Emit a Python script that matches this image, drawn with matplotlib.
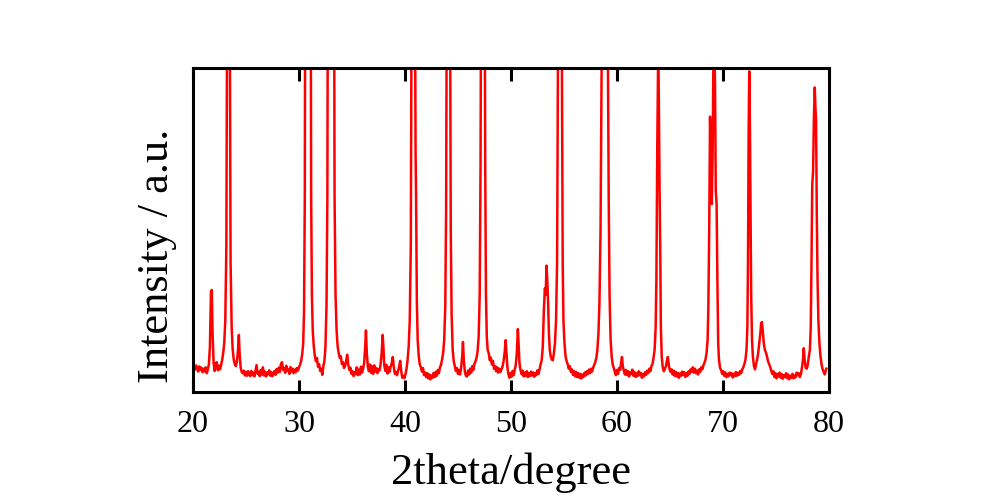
import matplotlib
matplotlib.use('Agg')
import matplotlib.pyplot as plt

plt.rcParams['font.family'] = ['Liberation Serif', 'DejaVu Serif']

# XRD pattern (intensity in arbitrary units, 0-100 = visible window)
two_theta = [
    20.0, 20.1, 20.2, 20.3, 20.4, 20.5, 20.6, 20.7, 20.8, 20.9, 21.0, 21.1, 21.2, 21.3, 21.4, 21.5,
    21.6, 21.7, 21.78, 21.85, 21.95, 22.05, 22.15, 22.25, 22.35, 22.45, 22.55, 22.65, 22.75, 22.85,
    22.95, 23.05, 23.15, 23.22, 23.35, 23.48, 23.55, 23.65, 23.75, 23.85, 23.95, 24.05, 24.15, 24.25,
    24.33, 24.4, 24.5, 24.6, 24.7, 24.8, 24.9, 25.0, 25.1, 25.2, 25.3, 25.4, 25.5, 25.6, 25.7, 25.8,
    25.9, 26.0, 26.1, 26.2, 26.3, 26.4, 26.5, 26.6, 26.7, 26.8, 26.9, 27.0, 27.1, 27.2, 27.3, 27.4,
    27.5, 27.6, 27.7, 27.8, 27.9, 28.0, 28.1, 28.2, 28.3, 28.4, 28.5, 28.6, 28.7, 28.8, 28.9, 29.0,
    29.1, 29.2, 29.3, 29.4, 29.5, 29.6, 29.7, 29.8, 29.9, 30.0, 30.1, 30.2, 30.3, 30.4, 30.48, 30.55,
    30.62, 30.85, 31.08, 31.15, 31.22, 31.3, 31.4, 31.5, 31.6, 31.7, 31.8, 31.9, 32.0, 32.1, 32.2,
    32.3, 32.4, 32.5, 32.6, 32.68, 32.76, 33.02, 33.28, 33.36, 33.45, 33.55, 33.65, 33.75, 33.85,
    33.95, 34.05, 34.15, 34.25, 34.35, 34.45, 34.55, 34.65, 34.75, 34.85, 34.95, 35.05, 35.15, 35.25,
    35.35, 35.45, 35.55, 35.65, 35.75, 35.85, 35.95, 36.05, 36.15, 36.25, 36.32, 36.4, 36.5, 36.6,
    36.7, 36.8, 36.9, 37.0, 37.1, 37.2, 37.3, 37.4, 37.5, 37.6, 37.7, 37.8, 37.9, 37.98, 38.05, 38.15,
    38.25, 38.35, 38.45, 38.55, 38.65, 38.75, 38.85, 38.95, 39.05, 39.15, 39.25, 39.35, 39.45, 39.55,
    39.65, 39.75, 39.85, 39.95, 40.05, 40.15, 40.25, 40.35, 40.45, 40.55, 40.62, 40.8, 40.95, 41.0,
    41.05, 41.12, 41.2, 41.3, 41.4, 41.5, 41.6, 41.7, 41.8, 41.9, 42.0, 42.1, 42.2, 42.3, 42.4, 42.5,
    42.6, 42.7, 42.8, 42.9, 43.0, 43.1, 43.2, 43.3, 43.4, 43.5, 43.6, 43.7, 43.8, 43.88, 43.95, 44.1,
    44.25, 44.32, 44.4, 44.5, 44.6, 44.7, 44.8, 44.9, 45.0, 45.1, 45.2, 45.3, 45.4, 45.47, 45.55,
    45.65, 45.75, 45.85, 45.95, 46.05, 46.15, 46.25, 46.35, 46.45, 46.55, 46.65, 46.75, 46.85, 46.95,
    47.05, 47.13, 47.2, 47.35, 47.5, 47.57, 47.64, 47.72, 47.8, 47.9, 48.0, 48.1, 48.2, 48.3, 48.4,
    48.5, 48.6, 48.7, 48.8, 48.9, 49.0, 49.1, 49.2, 49.3, 49.4, 49.5, 49.58, 49.65, 49.75, 49.85,
    49.95, 50.05, 50.15, 50.25, 50.35, 50.45, 50.55, 50.65, 50.72, 50.8, 50.9, 51.0, 51.1, 51.2, 51.3,
    51.4, 51.5, 51.6, 51.7, 51.8, 51.9, 52.0, 52.1, 52.2, 52.3, 52.4, 52.5, 52.6, 52.7, 52.8, 52.9,
    53.0, 53.1, 53.2, 53.28, 53.35, 53.42, 53.5, 53.58, 53.66, 53.75, 53.85, 53.95, 54.05, 54.15,
    54.25, 54.35, 54.43, 54.62, 54.81, 54.88, 54.95, 55.05, 55.15, 55.25, 55.35, 55.45, 55.55, 55.65,
    55.75, 55.85, 55.95, 56.05, 56.15, 56.25, 56.35, 56.45, 56.55, 56.65, 56.75, 56.85, 56.95, 57.05,
    57.15, 57.25, 57.35, 57.45, 57.55, 57.65, 57.75, 57.85, 57.95, 58.05, 58.15, 58.25, 58.35, 58.45,
    58.55, 58.87, 59.15, 59.22, 59.3, 59.4, 59.5, 59.6, 59.7, 59.8, 59.9, 60.0, 60.1, 60.2, 60.3, 60.4,
    60.47, 60.55, 60.65, 60.75, 60.85, 60.95, 61.05, 61.15, 61.25, 61.35, 61.45, 61.55, 61.65, 61.75,
    61.85, 61.95, 62.05, 62.15, 62.25, 62.35, 62.45, 62.55, 62.65, 62.75, 62.85, 62.95, 63.05, 63.15,
    63.25, 63.35, 63.45, 63.55, 63.65, 63.72, 63.8, 63.88, 63.95, 64.02, 64.08, 64.14, 64.22, 64.32,
    64.42, 64.52, 64.62, 64.7, 64.8, 64.88, 64.95, 65.05, 65.15, 65.25, 65.35, 65.45, 65.55, 65.65,
    65.75, 65.85, 65.95, 66.05, 66.15, 66.25, 66.35, 66.45, 66.55, 66.65, 66.75, 66.85, 66.95, 67.05,
    67.15, 67.25, 67.35, 67.45, 67.55, 67.65, 67.75, 67.85, 67.95, 68.05, 68.15, 68.25, 68.35, 68.45,
    68.55, 68.62, 68.7, 68.78, 68.85, 68.95, 69.03, 69.1, 69.17, 69.25, 69.32, 69.4, 69.47, 69.55,
    69.62, 69.72, 69.82, 69.92, 70.02, 70.12, 70.22, 70.32, 70.42, 70.52, 70.62, 70.72, 70.82, 70.92,
    71.02, 71.12, 71.22, 71.32, 71.42, 71.52, 71.62, 71.72, 71.82, 71.92, 72.02, 72.12, 72.22, 72.3,
    72.36, 72.42, 72.48, 72.54, 72.6, 72.66, 72.74, 72.82, 72.92, 73.02, 73.12, 73.22, 73.32, 73.42,
    73.52, 73.6, 73.67, 73.75, 73.85, 73.95, 74.05, 74.15, 74.25, 74.35, 74.45, 74.55, 74.65, 74.75,
    74.85, 74.95, 75.05, 75.15, 75.25, 75.35, 75.45, 75.55, 75.65, 75.75, 75.85, 75.95, 76.05, 76.15,
    76.25, 76.35, 76.45, 76.55, 76.65, 76.75, 76.85, 76.95, 77.05, 77.15, 77.25, 77.35, 77.45, 77.55,
    77.62, 77.7, 77.8, 77.9, 78.0, 78.1, 78.2, 78.28, 78.35, 78.42, 78.5, 78.58, 78.66, 78.72, 78.78,
    78.85, 78.92, 79.0, 79.1, 79.2, 79.3, 79.4, 79.5, 79.6, 79.7, 79.75,
]
intensity = [
    6.5, 7.8, 6.9, 8.2, 7.1, 6.3, 7.9, 6.8, 7.5, 6.1, 7.2, 6.4, 7.6, 5.8, 6.9, 8.5,
    14, 31, 31.5, 18, 9, 6.5, 8.8, 9.2, 6.7, 8.1, 7.0, 8.3, 9.8, 12,
    15, 22, 45, 110, 400, 110, 40, 20, 13, 10, 8.5, 8.0, 9.5, 13,
    17.6, 12, 7.5, 6.2, 5.8, 6.6, 5.1, 6.2, 5.0, 6.4, 5.3, 4.9, 6.5, 5.2, 6.0, 4.8,
    6.6, 8.3, 5.6, 6.2, 4.9, 6.8, 5.4, 7.6, 5.1, 6.3, 4.8, 6.0, 5.5, 6.7, 5.0, 6.1,
    4.9, 5.9, 6.5, 5.3, 7.1, 6.0, 7.5, 6.2, 8.6, 9.2, 6.8, 7.4, 5.9, 8.1, 6.5, 7.0,
    5.6, 7.7, 6.3, 7.2, 5.8, 6.9, 6.1, 7.4, 6.6, 7.6, 8.4, 9.5, 11.5, 15, 25, 60,
    180, 600, 180, 60, 30, 19, 14, 11, 9.5, 10.5, 7.8, 8.6, 6.5, 7.2, 5.3,
    8.0, 9.5, 14, 27, 60, 180, 600, 180, 60, 30, 19, 14, 12, 10.5,
    11, 8.6, 9.2, 7.4, 8.0, 9.5, 11.5, 8.5, 6.8, 7.5, 5.6, 6.4, 4.9, 6.1,
    5.5, 7.6, 5.2, 6.9, 5.4, 7.8, 6.0, 7.2, 9, 14, 19, 12, 7.8, 6.4,
    8.5, 5.9, 7.9, 5.6, 8.2, 6.3, 7.4, 5.8, 7.0, 6.6, 8.5, 12, 17.6, 13, 8.2, 6.5,
    8.4, 5.7, 7.6, 6.2, 7.9, 8.8, 10.8, 7.5, 5.6, 6.2, 5.2, 6.5, 7.8, 9.6,
    6.4, 4.4, 5.0, 4.3, 5.6, 7.2, 10, 14, 22, 45, 110, 500, 120, 74,
    60, 28, 16, 11, 8.5, 7.6, 6.3, 7.4, 5.2, 6.0, 4.6, 5.8, 4.2, 5.4, 3.9, 5.1,
    4.4, 5.9, 4.6, 6.2, 5.0, 6.8, 5.8, 7.6, 8.4, 10, 12, 16, 26, 55, 130, 500,
    130, 50, 24, 13, 9.5, 8.0, 6.5, 7.4, 5.6, 6.8, 5.4, 7.6, 11, 15.4, 10,
    6.2, 5.0, 4.8, 6.6, 5.4, 7.2, 6.0, 8.0, 6.8, 8.6, 9.4, 10.5, 12.5, 17,
    30, 70, 150, 500, 150, 70, 30, 17, 13, 12, 9.8, 10.6, 8.5, 9.6, 7.2,
    8.0, 6.4, 7.6, 6.0, 7.2, 6.2, 7.0, 7.8, 9.5, 12, 16, 12, 8, 5.6, 4.4,
    5.8, 4.7, 6.5, 5.2, 6.8, 8.2, 12, 19.4, 15, 9, 6.8, 5.5, 6.6, 4.8, 6.0,
    5.0, 6.4, 4.6, 5.8, 4.9, 6.3, 5.1, 6.0, 4.7, 5.9, 5.2, 6.7, 5.6, 7.0, 8.6, 9.8,
    14, 25, 32, 30, 39, 35, 28, 18, 13, 11, 10, 9.8, 12, 15,
    22, 40, 100, 500, 100, 40, 22, 15, 11, 9.5, 8.6, 7.2, 8.0, 6.2,
    7.0, 5.3, 6.4, 4.8, 6.2, 4.6, 5.8, 4.4, 5.6, 4.2, 5.4, 4.7, 6.0, 5.1,
    6.4, 5.5, 6.9, 5.8, 7.2, 6.3, 7.5, 8.4, 9.2, 10.5, 13, 18, 28, 50,
    100, 500, 100, 60, 30, 16, 11, 8.4, 7.4, 6.2, 5.2, 6.8, 5.6, 7.4, 6.8, 9.2,
    10.8, 8, 6.6, 5.4, 6.8, 5.2, 6.4, 4.8, 6.0, 5.6, 6.9, 5.0, 6.2, 4.6,
    5.8, 4.9, 6.4, 5.2, 5.9, 4.4, 5.6, 4.8, 6.1, 5.3, 6.6, 5.8, 7.2, 6.4,
    8.0, 8.6, 10.5, 13, 20, 35, 75, 102, 90, 62, 45, 20, 11, 7.5,
    6.4, 7.2, 8.0, 9.4, 10.8, 8.5, 7.2, 6.2, 7.0, 5.4, 6.6, 5.0, 6.2, 4.8,
    5.9, 4.4, 5.7, 5.0, 6.3, 5.2, 6.1, 4.6, 5.8, 5.0, 6.4, 5.6, 7.0, 6.2,
    7.6, 6.0, 7.2, 5.8, 6.6, 5.4, 7.0, 6.2, 7.6, 7.0, 8.2, 9.0, 10, 12,
    16, 26, 50, 85, 70, 58, 75, 105, 110, 95, 62, 58, 35, 15,
    10, 7.5, 6.8, 5.6, 6.4, 5.0, 6.0, 4.6, 5.6, 4.8, 6.0, 5.2, 5.8, 4.5,
    5.6, 4.9, 6.2, 5.0, 5.9, 5.3, 6.5, 5.8, 7.0, 7.6, 8.6, 10, 13, 20,
    40, 80, 99, 82, 57, 30, 16, 11, 8, 7.0, 8.5, 10, 12, 15,
    18, 21, 21.6, 19, 15, 13, 12.2, 11, 9.5, 8.6, 7.8, 6.6, 5.6, 6.4,
    4.6, 5.8, 4.2, 5.6, 4.8, 6.0, 4.4, 5.5, 4.1, 5.2, 4.6, 5.8, 4.3, 5.4,
    3.9, 5.0, 4.4, 5.6, 4.2, 5.1, 4.5, 6.0, 5.2, 5.8, 4.6, 5.5, 7.5, 10,
    13.5, 10, 7.5, 7.2, 8.5, 11, 13, 20, 40, 64, 68, 85, 94, 88, 84,
    55, 35, 22, 15, 11, 8.5, 7.0, 6.2, 5.4, 6.8, 7.2,
]
x_ticks = [20, 30, 40, 50, 60, 70, 80]

fig = plt.figure(figsize=(9.87, 5.03), dpi=100)
ax = fig.add_axes([0.1955, 0.2207, 0.6444, 0.6441])

ax.plot(two_theta, intensity, color='#ff0000', linewidth=1.8)

ax.set_xlim(20, 80)
ax.set_ylim(0, 100)
ax.set_xticks(x_ticks)
ax.set_yticks([])
ax.tick_params(axis='x', direction='in', top=True, bottom=True,
               length=9, width=2.2, labelsize=23, pad=13)
for side in ax.spines.values():
    side.set_linewidth(2.2)

ax.set_xlabel('2theta/degree', fontsize=32, labelpad=10)
ax.set_ylabel('Intensity / a.u.', fontsize=32)
# label sits a bit below the axes centre in the reference
ax.yaxis.set_label_coords(-0.025, 0.42)

fig.savefig('out.png', dpi=100)
